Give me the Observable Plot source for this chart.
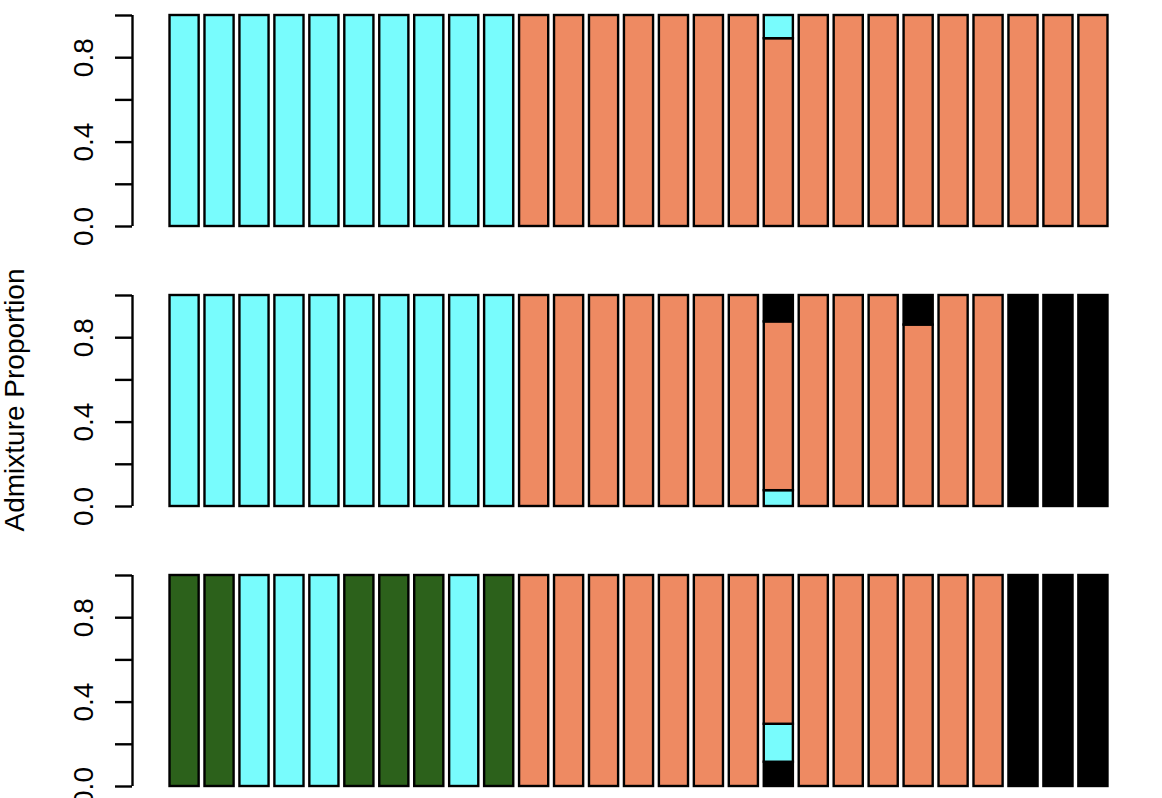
<!DOCTYPE html>
<html>
<head>
<meta charset="utf-8">
<script src="https://cdn.jsdelivr.net/npm/d3@7"></script>
<script src="https://cdn.jsdelivr.net/npm/@observablehq/plot@0.6"></script>
<style>
  html, body { margin: 0; padding: 0; background: #fff; overflow: hidden; }
  #chart { position: relative; width: 1162px; height: 798px; }
</style>
</head>
<body>
<div id="chart"></div>
<script>
// ---- Data ----
const nSamples = 27;
const panels = ["K2", "K3", "K4"];
const yLabel = "Admixture Proportion";
const yTicks = [0, 0.2, 0.4, 0.6, 0.8, 1.0];
const yTickLabels = ["0.0", "", "0.4", "", "0.8", ""];

// ancestry components and their colours
const compNames = ["Pop1", "Pop2", "Pop3", "Pop4"];
const compColors = ["#78FCFD", "#EE8A62", "#000000", "#2C611B"];

// K2 (bottom -> top: Pop2, Pop1)
const k2_pop2 = [0,0,0,0,0,0,0,0,0,0, 1,1,1,1,1,1,1, 0.89, 1,1,1,1,1,1,1,1,1];
const k2_pop1 = [1,1,1,1,1,1,1,1,1,1, 0,0,0,0,0,0,0, 0.11, 0,0,0,0,0,0,0,0,0];

// K3 (bottom -> top: Pop1, Pop2, Pop3)
const k3_pop1 = [1,1,1,1,1,1,1,1,1,1, 0,0,0,0,0,0,0, 0.075, 0,0,0,0,0,0,0,0,0];
const k3_pop2 = [0,0,0,0,0,0,0,0,0,0, 1,1,1,1,1,1,1, 0.80, 1,1,1, 0.86, 1,1, 0,0,0];
const k3_pop3 = [0,0,0,0,0,0,0,0,0,0, 0,0,0,0,0,0,0, 0.125, 0,0,0, 0.14, 0,0, 1,1,1];

// K4 (bottom -> top: Pop3, Pop1, Pop2, Pop4)
const k4_pop3 = [0,0,0,0,0,0,0,0,0,0, 0,0,0,0,0,0,0, 0.115, 0,0,0,0,0,0, 1,1,1];
const k4_pop1 = [0,0,1,1,1,0,0,0,1,0, 0,0,0,0,0,0,0, 0.18, 0,0,0,0,0,0, 0,0,0];
const k4_pop2 = [0,0,0,0,0,0,0,0,0,0, 1,1,1,1,1,1,1, 0.705, 1,1,1,1,1,1, 0,0,0];
const k4_pop4 = [1,1,0,0,0,1,1,1,0,1, 0,0,0,0,0,0,0, 0, 0,0,0,0,0,0, 0,0,0];

const stacks = {
  K2: [["Pop2", k2_pop2], ["Pop1", k2_pop1]],
  K3: [["Pop1", k3_pop1], ["Pop2", k3_pop2], ["Pop3", k3_pop3]],
  K4: [["Pop3", k4_pop3], ["Pop1", k4_pop1], ["Pop2", k4_pop2], ["Pop4", k4_pop4]]
};

// ---- Build segments (barplot-style positions: width 1, space 0.2) ----
const space = 0.2;
const segments = [];
for (const panel of panels) {
  for (let i = 0; i < nSamples; i++) {
    let acc = 0;
    const left = space + i * (1 + space);
    for (const [comp, vals] of stacks[panel]) {
      const v = vals[i];
      if (v > 0) {
        segments.push({panel, comp, x1: left, x2: left + 1, y1: acc, y2: acc + v});
      }
      acc += v;
    }
  }
}
const xLo = space, xHi = nSamples * (1 + space);
const ext = 0.04 * (xHi - xLo);
const xDomain = [xLo - ext, xHi + ext];

const fontFamily = "'Liberation Sans', Arial, Helvetica, sans-serif";

const plot = Plot.plot({
  width: 1162,
  height: 798,
  marginLeft: 132,
  marginRight: 17,
  marginTop: 14,
  marginBottom: 11.5,
  style: {fontFamily, fontSize: "28px", background: "white", color: "black"},
  x: {domain: xDomain, axis: null},
  y: {domain: [0, 1], axis: null},
  fy: {domain: panels, axis: null, paddingInner: 0.2476, paddingOuter: 0},
  color: {type: "ordinal", domain: compNames, range: compColors},
  marks: [
    Plot.rect(segments, {
      x1: "x1", x2: "x2", y1: "y1", y2: "y2", fy: "panel",
      fill: "comp", stroke: "black", strokeWidth: 2.4
    }),
    Plot.ruleX([xDomain[0]], {x: d => d, y1: 0, y2: 1, stroke: "black", strokeWidth: 2.4}),
    Plot.axisY({
      ticks: yTicks,
      tickSize: 17,
      tickRotate: -90,
      tickPadding: 23,
      strokeWidth: 2.4,
      fontSize: 28,
      tickFormat: (d) => yTickLabels[yTicks.indexOf(d)] ?? ""
    })
  ]
});

const svg = d3.select(plot);
svg.append("text")
  .attr("transform", "translate(24,400) rotate(-90)")
  .attr("text-anchor", "middle")
  .attr("font-family", fontFamily)
  .attr("font-size", 28)
  .attr("fill", "black")
  .text(yLabel);

document.getElementById("chart").appendChild(plot);
</script>
</body>
</html>
